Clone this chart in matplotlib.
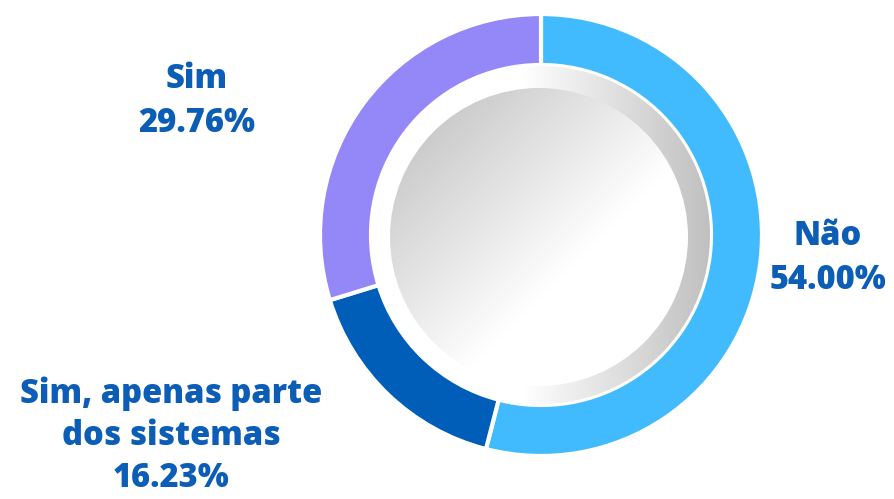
import numpy as np
import matplotlib
matplotlib.use("Agg")
import matplotlib.pyplot as plt
from matplotlib.patches import Circle
from matplotlib.colors import LinearSegmentedColormap

categories = ["Não", "Sim, apenas parte\ndos sistemas", "Sim"]
values = [54.00, 16.23, 29.76]
colors = ["#42BBFE", "#005EB8", "#9488F8"]
text_color = "#0B5DB6"

W, H = 894, 499
fig = plt.figure(figsize=(W / 100, H / 100), dpi=100)
ax = fig.add_axes([0, 0, 1, 1])

cx, cy = 541, H - 235
R_out, ring_w = 221, 51

ax.pie(values, startangle=90, counterclock=False, radius=R_out, center=(cx, cy),
       colors=colors, wedgeprops=dict(width=ring_w, edgecolor="white", linewidth=3))

# outer gradient disc (white left -> gray right)
r1 = R_out - ring_w - 1
n = 400
xs = np.linspace(cx - r1, cx + r1, n)
ys = np.linspace(cy - r1, cy + r1, n)
X, Y = np.meshgrid(xs, ys)
t1 = np.clip((X - (cx - 20)) / (r1 + 20), 0, 1)
cmap1 = LinearSegmentedColormap.from_list("g1", ["#ffffff", "#c0c0c0"])
im1 = ax.imshow(t1, cmap=cmap1, vmin=0, vmax=1, origin="lower",
                extent=(cx - r1, cx + r1, cy - r1, cy + r1), zorder=3)
c1 = Circle((cx, cy), r1, transform=ax.transData)
im1.set_clip_path(c1)

# inner gradient disc (gray top-left -> white bottom-right)
r2 = 149
icx, icy = cx - 2, cy - 2
xs = np.linspace(icx - r2, icx + r2, n)
ys = np.linspace(icy - r2, icy + r2, n)
X, Y = np.meshgrid(xs, ys)
d = ((X - icx) - (Y - icy)) / (np.sqrt(2) * r2)  # -1 top-left, +1 bottom-right
t2 = np.clip((d + 1.0) / 1.3, 0, 1)
cmap2 = LinearSegmentedColormap.from_list("g2", ["#cccccc", "#ffffff"])
im2 = ax.imshow(t2, cmap=cmap2, vmin=0, vmax=1, origin="lower",
                extent=(icx - r2, icx + r2, icy - r2, icy + r2), zorder=4)
c2 = Circle((icx, icy), r2, transform=ax.transData)
im2.set_clip_path(c2)

ax.set_xlim(0, W)
ax.set_ylim(0, H)
ax.set_aspect("equal")
ax.axis("off")

font = dict(family=["Open Sans", "DejaVu Sans"], fontweight=800, fontsize=23.5,
            color=text_color, ha="center", va="center")
label_pos = [(828, H - 258), (171, H - 436), (197, H - 101)]
spacings = [1.42, 1.3, 1.42]
for cat, v, (x, y), ls in zip(categories, values, label_pos, spacings):
    ax.text(x, y, f"{cat}\n{v:.2f}%", linespacing=ls, **font)

fig.savefig("out.png", dpi=100)
